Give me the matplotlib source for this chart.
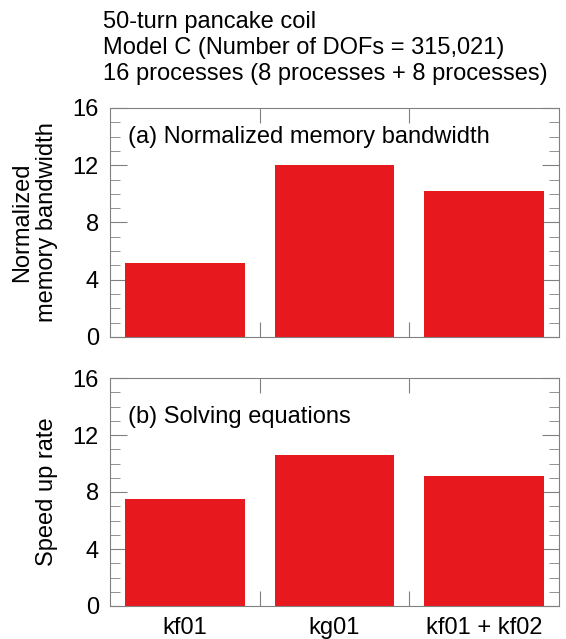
import matplotlib
matplotlib.use("Agg")
import matplotlib.pyplot as plt
from matplotlib.ticker import MultipleLocator

plt.rcParams["font.family"] = ["Liberation Sans", "DejaVu Sans"]

categories = ["kf01", "kg01", "kf01 + kf02"]
memory_bandwidth = [5.2, 12.0, 10.2]
speed_up = [7.5, 10.6, 9.1]
title_lines = [
    "50-turn pancake coil",
    "Model C (Number of DOFs = 315,021)",
    "16 processes (8 processes + 8 processes)",
]

bar_color = "#e8191e"
spine_color = "#808080"
font_size = 17

fig = plt.figure(figsize=(5.66, 6.39), dpi=100)
W, H = 566, 639


def make_axes(top, bottom):
    left, right = 110, 559
    return fig.add_axes([left / W, 1 - bottom / H, (right - left) / W, (bottom - top) / H])


ax1 = make_axes(108, 337)
ax2 = make_axes(378, 606)

positions = [i + 0.5 for i in range(len(categories))]

for ax, values, label, panel, py in [
    (ax1, memory_bandwidth, "Normalized\nmemory bandwidth", "(a) Normalized memory bandwidth", 0.873),
    (ax2, speed_up, "Speed up rate", "(b) Solving equations", 0.83),
]:
    ax.bar(positions, values, width=0.8, color=bar_color, zorder=2)
    ax.set_xlim(0, 3)
    ax.set_ylim(0, 16)
    ax.yaxis.set_major_locator(MultipleLocator(4))
    ax.yaxis.set_minor_locator(MultipleLocator(1))
    ax.set_xticks([1, 2])
    ax.set_xticklabels([])
    ax.set_xticks(positions, minor=True)
    ax.tick_params(axis="x", which="minor", length=0, labelsize=font_size, pad=8)
    ax.tick_params(axis="y", which="major", direction="in", right=True, length=12,
                   color=spine_color, labelsize=font_size, pad=8)
    ax.tick_params(axis="y", which="minor", direction="in", right=True, length=7,
                   color=spine_color)
    ax.tick_params(axis="x", which="major", direction="in", top=True, length=11,
                   color=spine_color)
    for s in ax.spines.values():
        s.set_color(spine_color)
        s.set_linewidth(0.8)
    ax.set_ylabel(label, fontsize=font_size)
    ax.yaxis.set_label_coords(-0.115, 0.5)
    ax.text(0.04, py, panel, transform=ax.transAxes, fontsize=font_size, va="center")

ax1.set_xticklabels([], minor=True)
ax2.set_xticklabels(categories, minor=True)

for i, line in enumerate(title_lines):
    fig.text(103 / W, 1 - (28 + 26 * i) / H, line, fontsize=17, va="baseline")

fig.savefig("out.png", dpi=100)
